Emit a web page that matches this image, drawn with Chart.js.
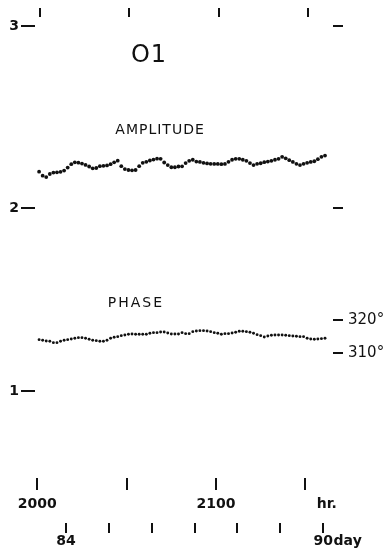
<!DOCTYPE html>
<html>
<head>
<meta charset="utf-8">
<script src="https://cdn.jsdelivr.net/npm/chart.js@4"></script>
<style>
html,body{margin:0;padding:0;background:#fff}
#wrap{width:384px;height:558px;position:relative;background:#fff}
</style>
</head>
<body>
<div id="wrap"><canvas id="c"></canvas></div>
<script>
// ---------------- data ----------------
const START_HOUR = 2001;   // first sample (hour)
const STEP_HOURS = 2;      // sampling interval (hours)

const AMPLITUDE = [
  2.202, 2.180, 2.172, 2.189, 2.197, 2.198, 2.201, 2.208, 2.224, 2.243,
  2.253, 2.251, 2.246, 2.239, 2.230, 2.220, 2.222, 2.232, 2.234, 2.236,
  2.243, 2.253, 2.262, 2.232, 2.216, 2.211, 2.209, 2.211, 2.232, 2.250,
  2.256, 2.263, 2.268, 2.273, 2.272, 2.252, 2.238, 2.226, 2.226, 2.230,
  2.231, 2.249, 2.261, 2.267, 2.257, 2.255, 2.250, 2.247, 2.245, 2.244,
  2.244, 2.243, 2.244, 2.256, 2.267, 2.272, 2.272, 2.267, 2.261, 2.249,
  2.238, 2.245, 2.248, 2.254, 2.257, 2.261, 2.267, 2.272, 2.283, 2.275,
  2.265, 2.255, 2.245, 2.238, 2.245, 2.250, 2.255, 2.259, 2.270, 2.283,
  2.290
];

const PHASE = [
  314.1, 313.9, 313.7, 313.6, 313.2, 313.2, 313.6, 313.9, 314.1, 314.3,
  314.5, 314.7, 314.7, 314.5, 314.2, 313.9, 313.8, 313.6, 313.6, 313.9,
  314.5, 314.8, 315.0, 315.3, 315.5, 315.7, 315.8, 315.7, 315.7, 315.7,
  315.7, 316.0, 316.2, 316.2, 316.4, 316.4, 316.1, 315.8, 315.8, 315.8,
  316.2, 315.9, 315.9, 316.5, 316.7, 316.8, 316.8, 316.7, 316.5, 316.2,
  316.0, 315.7, 315.9, 315.9, 316.1, 316.3, 316.6, 316.6, 316.5, 316.3,
  316.0, 315.6, 315.3, 314.9, 315.2, 315.4, 315.5, 315.5, 315.5, 315.4,
  315.3, 315.2, 315.1, 315.0, 315.0, 314.5, 314.3, 314.2, 314.3, 314.4,
  314.5
];

const HOUR_TICKS = [2000, 2050, 2100, 2150];
const HOUR_TICK_LABELS = ['2000', '', '2100', ''];
const HOUR_UNIT = 'hr.';
const HOUR_UNIT_AT = 2162;

const DAY_TICKS = [84, 85, 86, 87, 88, 89, 90];
const DAY_TICK_LABELS = ['84', '', '', '', '', '', '90'];
const DAY_UNIT = 'day';
const DAY_UNIT_AT = 90.57;

const AMP_TICKS = [1, 2, 3];
const AMP_TICK_LABELS = ['1', '2', '3'];
const AMP_RIGHT_TICKS = [2, 3];

const PHASE_TICKS = [310, 320];
const PHASE_TICK_LABELS = ['310°', '320°'];

// ---------------- scale ranges ----------------
const X_MIN = 1998.71, X_MAX = 2165.47;
const TOP_SHIFT = -1.4;
const AMP_MIN = 0.5233, AMP_MAX = 3.0493;
const PH_MIN = 272.55, PH_MAX = 410.99;

const HOURS = AMPLITUDE.map((_, i) => START_HOUR + STEP_HOURS * i);

const INK = '#111';
const FONT = '"DejaVu Sans", "Liberation Sans", sans-serif';

const toPhase = a => PH_MIN + (a - AMP_MIN) / (AMP_MAX - AMP_MIN) * (PH_MAX - PH_MIN);

function grid(len, hideAt) {
  return {
    display: true,
    drawOnChartArea: false,
    drawTicks: true,
    tickLength: len,
    lineWidth: 2,
    color: INK,
    tickColor: ctx => (hideAt !== undefined && ctx.tick && ctx.tick.value === hideAt) ? 'rgba(0,0,0,0)' : INK
  };
}

const textPlugin = {
  id: 'panelText',
  afterDatasetsDraw(chart, args, opts) {
    const {ctx, scales} = chart;
    ctx.save();
    ctx.fillStyle = INK;
    ctx.textAlign = 'center';
    ctx.textBaseline = 'middle';
    for (const t of opts.items) {
      ctx.font = `${t.weight || 'normal'} ${t.size}px ${FONT}`;
      if ('letterSpacing' in ctx) ctx.letterSpacing = (t.spacing || 0) + 'px';
      ctx.fillText(t.text, scales.x.getPixelForValue(t.hour), scales.y.getPixelForValue(t.amp));
    }
    ctx.restore();
  }
};

const labelFont = {family: FONT, size: 14, weight: 'bold'};

new Chart(document.getElementById('c'), {
  type: 'scatter',
  data: {
    datasets: [
      {
        label: 'Amplitude',
        data: HOURS.map((h, i) => ({x: h, y: AMPLITUDE[i]})),
        yAxisID: 'y',
        xAxisID: 'x',
        pointRadius: 1.9,
        pointBorderWidth: 0,
        backgroundColor: INK,
        borderColor: INK
      },
      {
        label: 'Phase',
        data: HOURS.map((h, i) => ({x: h, y: PHASE[i]})),
        yAxisID: 'yR',
        xAxisID: 'x',
        pointRadius: 1.45,
        pointBorderWidth: 0,
        backgroundColor: INK,
        borderColor: INK
      }
    ]
  },
  options: {
    responsive: true,
    maintainAspectRatio: false,
    animation: false,
    events: [],
    layout: {padding: {top: 8, left: 10, right: 0, bottom: 0}},
    plugins: {
      legend: {display: false},
      tooltip: {enabled: false},
      panelText: {
        items: [
          {text: 'O1', hour: 2062.5, amp: 2.836, size: 24, spacing: 1},
          {text: 'AMPLITUDE', hour: 2068.7, amp: 2.430, size: 14, spacing: 1},
          {text: 'PHASE', hour: 2055.2, amp: 1.482, size: 14, spacing: 2}
        ]
      }
    },
    scales: {
      x: {
        type: 'linear', position: 'bottom', min: X_MIN, max: X_MAX,
        border: {display: false},
        grid: grid(12, HOUR_UNIT_AT),
        afterBuildTicks: s => { s.ticks = HOUR_TICKS.map(v => ({value: v})).concat([{value: HOUR_UNIT_AT}]); },
        afterFit: s => { s.height = 45; },
        ticks: {
          autoSkip: false, maxRotation: 0, padding: 6, color: INK,
          font: labelFont,
          callback: v => { const i = HOUR_TICKS.indexOf(v); return i >= 0 ? HOUR_TICK_LABELS[i] : (v === HOUR_UNIT_AT ? HOUR_UNIT : ''); }
        }
      },
      xDay: {
        type: 'linear', position: 'bottom', min: X_MIN / 24, max: X_MAX / 24,
        border: {display: false},
        grid: grid(10, DAY_UNIT_AT),
        afterBuildTicks: s => { s.ticks = DAY_TICKS.map(v => ({value: v})).concat([{value: DAY_UNIT_AT}]); },
        afterFit: s => { s.height = 35; },
        ticks: {
          autoSkip: false, maxRotation: 0, padding: 0, color: INK,
          font: labelFont,
          callback: v => { const i = DAY_TICKS.indexOf(v); return i >= 0 ? DAY_TICK_LABELS[i] : (v === DAY_UNIT_AT ? DAY_UNIT : ''); }
        }
      },
      xTop: {
        type: 'linear', position: 'top', min: X_MIN + TOP_SHIFT, max: X_MAX + TOP_SHIFT,
        border: {display: false},
        grid: grid(9),
        afterBuildTicks: s => { s.ticks = HOUR_TICKS.map(v => ({value: v})); },
        afterFit: s => { s.height = 9; },
        ticks: {display: false, autoSkip: false}
      },
      y: {
        type: 'linear', position: 'left', min: AMP_MIN, max: AMP_MAX,
        border: {display: false},
        grid: grid(14),
        afterBuildTicks: s => { s.ticks = AMP_TICKS.map(v => ({value: v})); },
        afterFit: s => { s.width = 25; },
        ticks: {
          autoSkip: false, padding: 2, color: INK,
          font: labelFont,
          callback: v => { const i = AMP_TICKS.indexOf(v); return i >= 0 ? AMP_TICK_LABELS[i] : ''; }
        }
      },
      yR: {
        type: 'linear', position: 'right', min: PH_MIN, max: PH_MAX,
        border: {display: false},
        grid: grid(10),
        afterBuildTicks: s => {
          s.ticks = PHASE_TICKS.map(v => ({value: v})).concat(AMP_RIGHT_TICKS.map(a => ({value: toPhase(a)})));
        },
        afterFit: s => { s.width = 51; },
        ticks: {
          autoSkip: false, padding: 5, color: INK,
          font: {family: FONT, size: 15},
          callback: v => { const i = PHASE_TICKS.indexOf(v); return i >= 0 ? PHASE_TICK_LABELS[i] : ''; }
        }
      }
    }
  },
  plugins: [textPlugin]
});
</script>
</body>
</html>
